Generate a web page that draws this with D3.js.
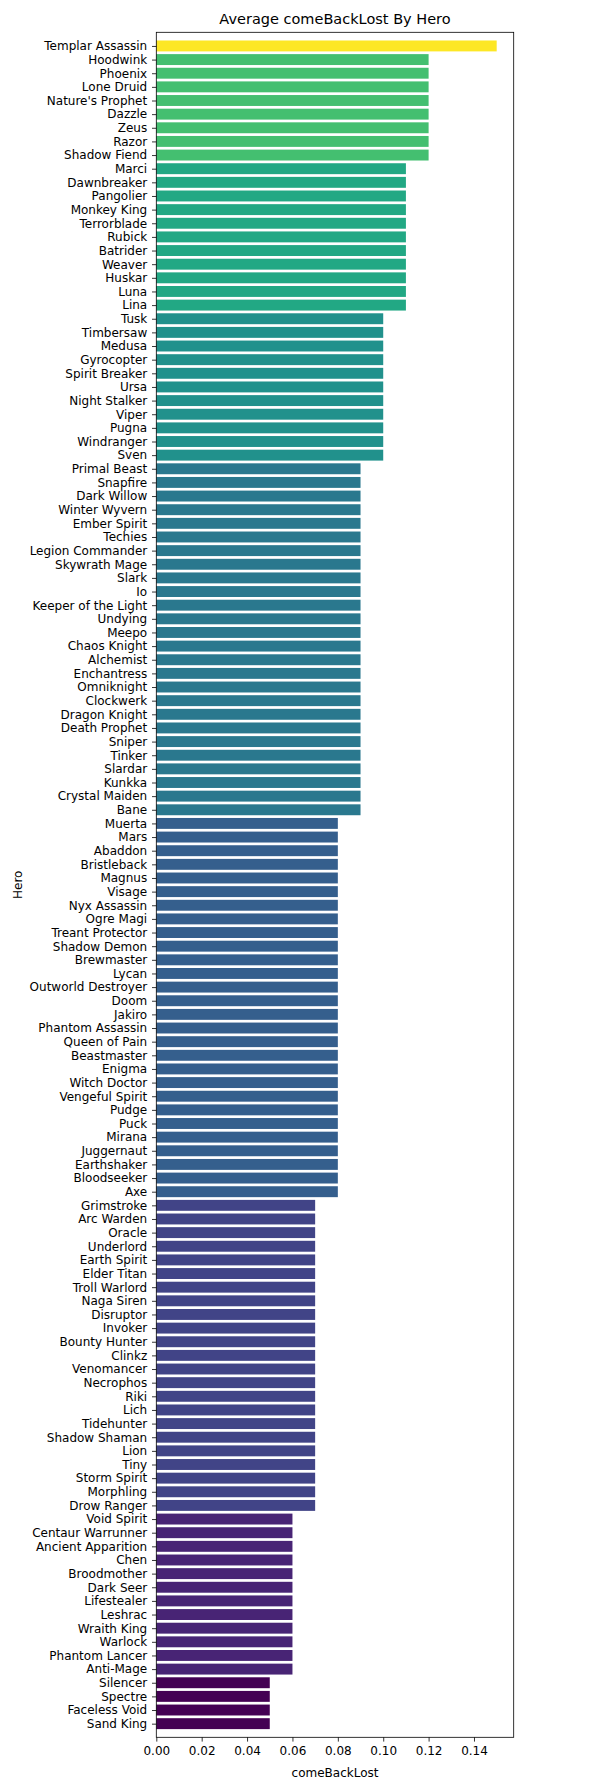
<!DOCTYPE html>
<html><head><meta charset="utf-8">
<script src="https://cdn.jsdelivr.net/npm/d3@7"></script>
<style>body{margin:0;background:#fff}svg{display:block}text{font-family:"DejaVu Sans",sans-serif;fill:#000}</style>
</head><body>
<script>
const heroes = ["Templar Assassin","Hoodwink","Phoenix","Lone Druid","Nature's Prophet","Dazzle","Zeus","Razor","Shadow Fiend",
"Marci","Dawnbreaker","Pangolier","Monkey King","Terrorblade","Rubick","Batrider","Weaver","Huskar","Luna","Lina",
"Tusk","Timbersaw","Medusa","Gyrocopter","Spirit Breaker","Ursa","Night Stalker","Viper","Pugna","Windranger","Sven",
"Primal Beast","Snapfire","Dark Willow","Winter Wyvern","Ember Spirit","Techies","Legion Commander","Skywrath Mage","Slark","Io","Keeper of the Light","Undying","Meepo","Chaos Knight","Alchemist","Enchantress","Omniknight","Clockwerk","Dragon Knight","Death Prophet","Sniper","Tinker","Slardar","Kunkka","Crystal Maiden","Bane",
"Muerta","Mars","Abaddon","Bristleback","Magnus","Visage","Nyx Assassin","Ogre Magi","Treant Protector","Shadow Demon","Brewmaster","Lycan","Outworld Destroyer","Doom","Jakiro","Phantom Assassin","Queen of Pain","Beastmaster","Enigma","Witch Doctor","Vengeful Spirit","Pudge","Puck","Mirana","Juggernaut","Earthshaker","Bloodseeker","Axe",
"Grimstroke","Arc Warden","Oracle","Underlord","Earth Spirit","Elder Titan","Troll Warlord","Naga Siren","Disruptor","Invoker","Bounty Hunter","Clinkz","Venomancer","Necrophos","Riki","Lich","Tidehunter","Shadow Shaman","Lion","Tiny","Storm Spirit","Morphling","Drow Ranger",
"Void Spirit","Centaur Warrunner","Ancient Apparition","Chen","Broodmother","Dark Seer","Lifestealer","Leshrac","Wraith King","Warlock","Phantom Lancer","Anti-Mage",
"Silencer","Spectre","Faceless Void","Sand King"];
const comeBackLost = [0.15,
0.12,0.12,0.12,0.12,0.12,0.12,0.12,0.12,
0.11,0.11,0.11,0.11,0.11,0.11,0.11,0.11,0.11,0.11,0.11,
0.10,0.10,0.10,0.10,0.10,0.10,0.10,0.10,0.10,0.10,0.10,
0.09,0.09,0.09,0.09,0.09,0.09,0.09,0.09,0.09,0.09,0.09,0.09,0.09,0.09,0.09,0.09,0.09,0.09,0.09,0.09,0.09,0.09,0.09,0.09,0.09,0.09,
0.08,0.08,0.08,0.08,0.08,0.08,0.08,0.08,0.08,0.08,0.08,0.08,0.08,0.08,0.08,0.08,0.08,0.08,0.08,0.08,0.08,0.08,0.08,0.08,0.08,0.08,0.08,0.08,
0.07,0.07,0.07,0.07,0.07,0.07,0.07,0.07,0.07,0.07,0.07,0.07,0.07,0.07,0.07,0.07,0.07,0.07,0.07,0.07,0.07,0.07,0.07,
0.06,0.06,0.06,0.06,0.06,0.06,0.06,0.06,0.06,0.06,0.06,0.06,
0.05,0.05,0.05,0.05];
const xTicks = [0,0.02,0.04,0.06,0.08,0.10,0.12,0.14];
const title = "Average comeBackLost By Hero";
const xLabel = "comeBackLost";
const yLabel = "Hero";

const W = 590, H = 1790;
const mLeft = 156.3, mRight = 513.7, mTop = 32.3, mBottom = 1737.3;
const svg = d3.select("body").append("svg").attr("width", W).attr("height", H);

const vmax = d3.max(comeBackLost), vmin = d3.min(comeBackLost);
const x = d3.scaleLinear().domain([0, vmax * 1.05]).range([mLeft, mRight]);
const n = heroes.length;
const yIdx = d3.scaleLinear().domain([-1, n]).range([mTop, mBottom]);
const band = yIdx(1) - yIdx(0);
const color = v => d3.interpolateViridis((v - vmin) / (vmax - vmin));

svg.append("g").selectAll("rect").data(heroes).join("rect")
  .attr("x", x(0))
  .attr("y", (d, i) => yIdx(i) - band * 0.4)
  .attr("width", (d, i) => x(comeBackLost[i]) - x(0))
  .attr("height", band * 0.8)
  .attr("fill", (d, i) => color(comeBackLost[i]));

// y axis
const yAxis = d3.axisLeft(d3.scalePoint().domain(heroes).range([yIdx(0), yIdx(n - 1)]))
  .tickSize(4.3).tickPadding(4.8);
const gy = svg.append("g").attr("transform", `translate(${mLeft},0)`).call(yAxis);
gy.select(".domain").remove();
gy.selectAll("text").attr("font-size", 12).attr("font-family", "DejaVu Sans");
gy.selectAll("line").attr("stroke-width", 0.8);

// x axis
const xAxis = d3.axisBottom(x).tickValues(xTicks).tickFormat(d3.format(".2f")).tickSize(4.3).tickPadding(5);
const gx = svg.append("g").attr("transform", `translate(0,${mBottom})`).call(xAxis);
gx.select(".domain").remove();
gx.selectAll("text").attr("font-size", 12).attr("font-family", "DejaVu Sans");
gx.selectAll("line").attr("stroke-width", 0.8);

// frame
svg.append("rect").attr("x", mLeft).attr("y", mTop).attr("width", mRight - mLeft).attr("height", mBottom - mTop)
  .attr("fill", "none").attr("stroke", "#000").attr("stroke-width", 0.8);

svg.append("text").attr("x", (mLeft + mRight) / 2).attr("y", 24).attr("text-anchor", "middle")
  .attr("font-size", 14.5).text(title);
svg.append("text").attr("x", (mLeft + mRight) / 2).attr("y", 1776.7).attr("text-anchor", "middle")
  .attr("font-size", 12).text(xLabel);
svg.append("text").attr("transform", `translate(21.5,${(mTop + mBottom) / 2}) rotate(-90)`).attr("text-anchor", "middle")
  .attr("font-size", 12).text(yLabel);
</script>
</body></html>
